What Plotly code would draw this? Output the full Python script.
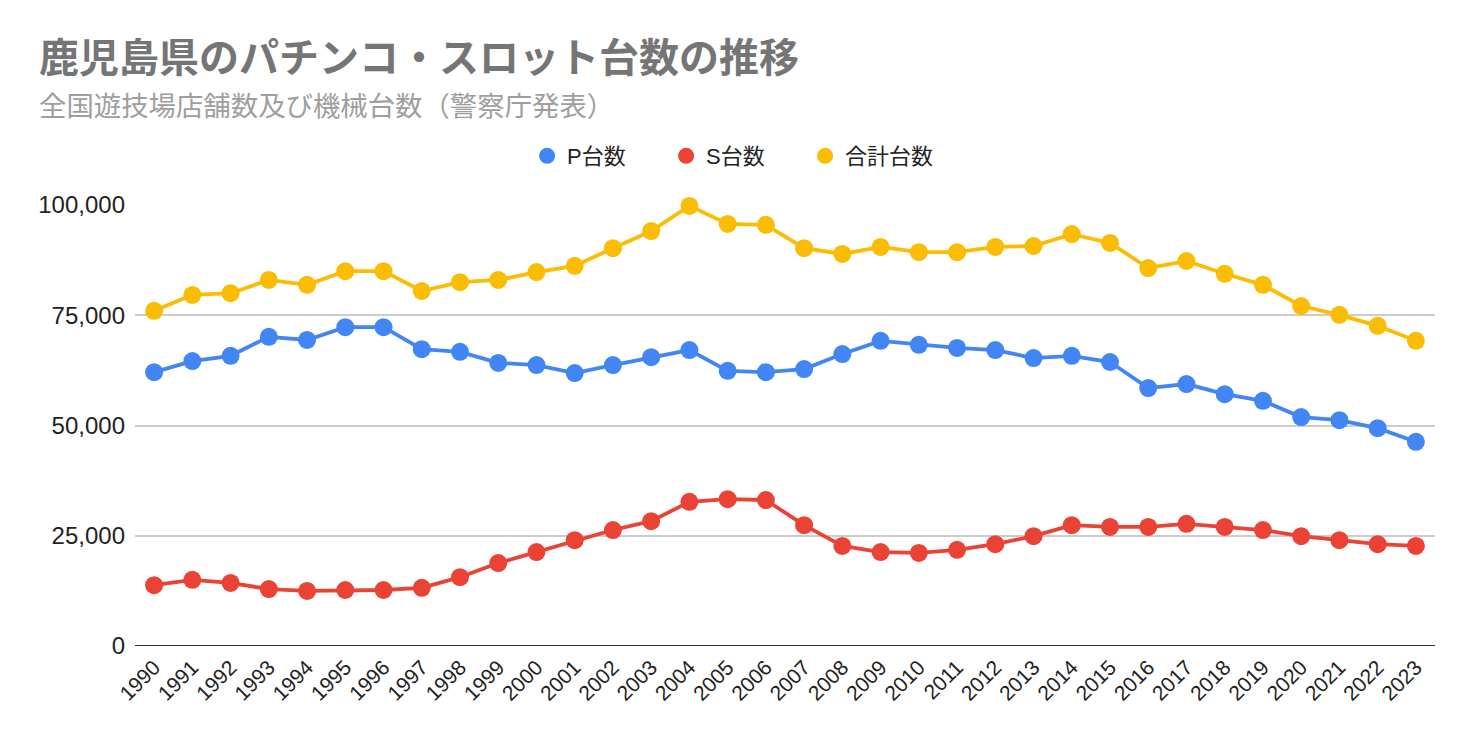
import plotly.graph_objects as go

years = [str(y) for y in range(1990, 2024)]
p_units = [62100, 64600, 65800, 70100, 69400, 72300, 72300, 67300, 66700, 64200,
           63700, 61900, 63700, 65500, 67100, 62400, 62100, 62800, 66200, 69200,
           68300, 67600, 67100, 65300, 65800, 64400, 58500, 59400, 57100, 55600,
           51900, 51200, 49400, 46300]
s_units = [13800, 15000, 14300, 12900, 12500, 12700, 12700, 13200, 15600, 18800,
           21300, 24000, 26300, 28300, 32700, 33300, 33100, 27400, 22700, 21300,
           21100, 21800, 23100, 24900, 27400, 27000, 27000, 27700, 27000, 26300,
           24900, 24000, 23100, 22700]
total_units = [76000, 79600, 80000, 83000, 81900, 85000, 85000, 80500, 82500, 83000,
               84800, 86200, 90200, 94100, 99800, 95700, 95500, 90200, 88900, 90500,
               89300, 89300, 90500, 90700, 93400, 91400, 85700, 87300, 84400, 81900,
               77100, 75100, 72600, 69200]
y_ticks = [0, 25000, 50000, 75000, 100000]

series = [("P台数", p_units, "#4285F4"),
          ("S台数", s_units, "#EA4335"),
          ("合計台数", total_units, "#FBBC04")]

font_family = "'Liberation Sans', Arial, 'Noto Sans CJK JP', sans-serif"
cjk_family = "'Noto Sans CJK JP', sans-serif"

# figure sits 8px in from the page edge (body margin)
W, H = 1464, 734
L, R, T, B = 127, 37, 197, 96
PW, PH = W - L - R, H - T - B

fig = go.Figure()
for name, vals, color in series:
    fig.add_trace(go.Scatter(
        x=years, y=vals, name=name, mode="lines+markers",
        line=dict(color=color, width=3.8),
        marker=dict(color=color, size=18),
        cliponaxis=False, showlegend=False,
    ))
# legend entries (circle only)
for name, vals, color in series:
    fig.add_trace(go.Scatter(
        x=[None], y=[None], name=name, mode="markers",
        marker=dict(color=color, size=23), showlegend=True,
    ))

fig.update_layout(
    width=W, height=H,
    paper_bgcolor="white", plot_bgcolor="white",
    margin=dict(l=L, r=R, t=T, b=B),
    font=dict(family=font_family, color="#222222"),
    showlegend=True,
    legend=dict(orientation="h", xref="container", yref="container",
                x=0.497, xanchor="center", y=1 - 148 / H, yanchor="middle",
                font=dict(size=22, color="#222222"), entrywidth=94,
                itemsizing="trace"),
    xaxis=dict(type="category", range=[-0.5, 33.5], tickangle=-45,
               tickfont=dict(size=21, color="#222222"), showgrid=False,
               ticks="", showline=False, zeroline=False, ticklabelstandoff=4),
    yaxis=dict(range=[0, 100000], tickvals=y_ticks, tickformat=",d",
               tickfont=dict(size=24, color="#222222"), showgrid=True,
               gridcolor="#cccccc", gridwidth=1.5, zeroline=False,
               ticks="", ticklabelstandoff=9, showline=False),
    annotations=[
        dict(text="<b>鹿児島県のパチンコ・スロット台数の推移</b>", xref="paper", yref="paper",
             x=(29 - L) / PW, y=1 + (T - 47) / PH, xanchor="left", yanchor="middle",
             showarrow=False, font=dict(size=40, color="#757575", family=cjk_family)),
        dict(text="全国遊技場店舗数及び機械台数（警察庁発表）", xref="paper", yref="paper",
             x=(29 - L) / PW, y=1 + (T - 96) / PH, xanchor="left", yanchor="middle",
             showarrow=False, font=dict(size=27.4, color="#9e9e9e", family=cjk_family)),
    ],
    shapes=[dict(type="line", xref="paper", yref="y", x0=0, x1=1, y0=0, y1=0,
                 line=dict(color="#333333", width=2))],
)

fig.write_html("out.html")
